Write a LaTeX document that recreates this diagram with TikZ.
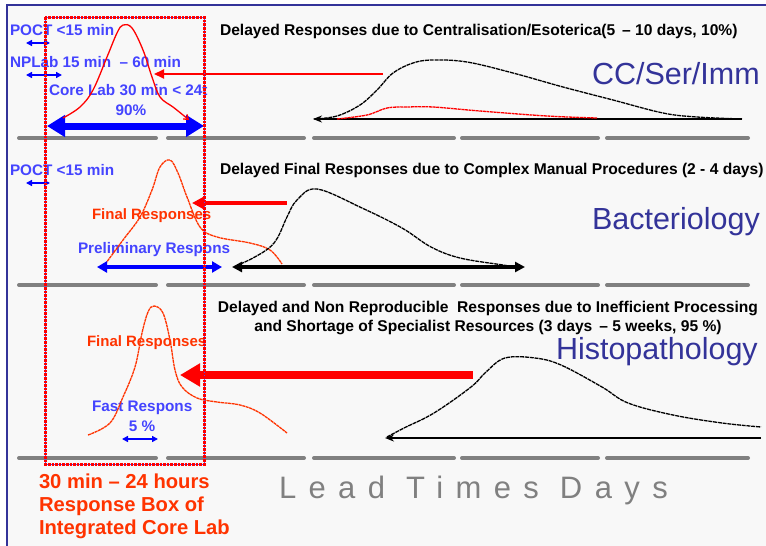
\documentclass[tikz,border=0pt]{standalone}
\usepackage{fontspec}
\setmainfont{Liberation Sans}
\usetikzlibrary{arrows.meta}
\definecolor{paper}{HTML}{F8F8F8}
\definecolor{navy}{HTML}{333399}
\definecolor{labelblue}{HTML}{4444FF}
\definecolor{orangered}{HTML}{FF3300}
\definecolor{rulegray}{HTML}{808080}

\begin{document}
\begin{tikzpicture}[x=1pt,y=-1pt,
  every node/.style={inner sep=0pt,outer sep=0pt},
  bluelabel/.style={text=labelblue,font=\fontsize{15.3}{17}\selectfont\bfseries,anchor=west},
  orangelabel/.style={text=orangered,font=\fontsize{15}{17}\selectfont\bfseries,anchor=west},
  boxlabel/.style={text=orangered,font=\fontsize{20.2}{22}\selectfont\bfseries,anchor=west},
  header/.style={text=black,font=\fontsize{15.6}{18}\selectfont\bfseries},
  section/.style={text=navy,font=\fontsize{30.5}{33}\selectfont,anchor=west},
  rule/.style={rulegray,line width=4pt,line cap=round},
  curveblack/.style={black,line width=1.3pt,dash pattern=on 4pt off 0.8pt},
  curveorange/.style={orangered,line width=1.3pt,dash pattern=on 3pt off 0.6pt},
  smallblue/.style={blue,line width=1.8pt,{Triangle[length=6pt,width=6pt]}-{Triangle[length=6pt,width=6pt]}},
  axisblack/.style={black,line width=2pt,-{Stealth[length=9pt,width=7pt]}}
]
\useasboundingbox (0,0) rectangle (766,546);
% paper and frame
\fill[white] (0,0) rectangle (766,546);
\fill[paper] (6,4) rectangle (766,546);
\draw[navy,line width=2pt] (6.5,546) -- (6.5,4.5) -- (766,4.5);

% grey time rules of the three rows
\foreach \ry in {138,285,458}{
  \foreach \ra/\rb in {17/158,166/306,312/456,460/600,605/750}{
    \draw[rule] (\ra+2,\ry) -- (\rb-2,\ry);
  }
}

% ---------- row 1: CC/Ser/Imm ----------
\node[bluelabel] (poct1) at (10,30) {POCT <15 min};
\node[bluelabel] (nplab) at (10,62) {NPLab 15 min \ – 60 min};
\node[bluelabel] (core) at (49,90) {Core Lab 30 min < 24t};
\node[text=labelblue,font=\fontsize{15.3}{17}\selectfont\bfseries] (ninety) at (131,110) {90\%};
\node[header,anchor=west] (head1) at (220,31) {Delayed Responses due to Centralisation/Esoterica(5 \,– 10 days, 10\%)};
\node[section] (cc) at (592,74) {CC/Ser/Imm};

\coordinate (p1a) at (26,43);  \coordinate (p1b) at (50,43);
\draw[smallblue] (p1a) -- (p1b);
\coordinate (npa) at (26,75);  \coordinate (npb) at (62,75);
\draw[smallblue] (npa) -- (npb);
\coordinate (cla) at (47,126); \coordinate (clb) at (204,126);
\draw[blue,line width=7pt,{Triangle[length=18pt,width=21pt]}-{Triangle[length=18pt,width=21pt]}] (cla) -- (clb);

\draw[red,line width=1.3pt,-{Straight Barb[length=4pt,width=6pt]}] plot[smooth,tension=0.6] coordinates
  {(63,118) (80,107) (93,90) (107,57) (117,33) (123,25) (132,28) (143,50) (152,77) (160,97) (173,107) (183,115) (189,120)};

\coordinate (r1a) at (383,74); \coordinate (r1b) at (154,74);
\draw[red,line width=2pt,-{Triangle[length=10pt,width=9pt]}] (r1a) -- (r1b);

\coordinate (ax1a) at (742,119); \coordinate (ax1b) at (313,119);
\draw[axisblack] (ax1a) -- (ax1b);
\draw[curveblack] plot[smooth,tension=0.6] coordinates
  {(314,119) (337,116) (360,105) (377,90) (393,73) (413,63) (433,60) (467,62) (513,73) (563,87) (613,100) (663,113) (697,117) (742,119)};
\draw[red,line width=1.3pt,dash pattern=on 3pt off 0.6pt] plot[smooth,tension=0.6] coordinates
  {(337,119) (367,115) (387,108) (407,107) (433,107) (480,111) (547,116) (597,118)};

% ---------- row 2: Bacteriology ----------
\node[bluelabel] (poct2) at (10,170) {POCT <15 min};
\node[header,anchor=west] (head2) at (220,170) {Delayed Final Responses due to Complex Manual Procedures (2 - 4 days)};
\node[orangelabel] (final2) at (92,216) {Final Responses};
\node[bluelabel] (prelim) at (78,250) {Preliminary Respons};
\node[section] (bact) at (592,222) {Bacteriology};

\coordinate (p2a) at (26,183); \coordinate (p2b) at (50,183);
\draw[smallblue] (p2a) -- (p2b);

\draw[curveorange] plot[smooth,tension=0.6] coordinates
  {(103,267) (123,240) (140,217) (152,190) (160,167) (170,160) (178,173) (187,197) (200,227) (217,237) (250,243) (270,250) (282,264)};

\coordinate (pra) at (97,267); \coordinate (prb) at (222,267);
\draw[blue,line width=4pt,{Triangle[length=10pt,width=11pt]}-{Triangle[length=10pt,width=11pt]}] (pra) -- (prb);
\coordinate (bka) at (232,267); \coordinate (bkb) at (525,267);
\draw[black,line width=4pt,{Triangle[length=10pt,width=10pt]}-{Triangle[length=10pt,width=10pt]}] (bka) -- (bkb);
\draw[curveblack] plot[smooth,tension=0.6] coordinates
  {(236,266) (253,258) (269,248) (278,237) (287,217) (297,200) (317,189) (362,208) (402,228) (431,247) (460,258) (503,265) (515,267)};

\coordinate (r2a) at (287,203); \coordinate (r2b) at (192,203);
\draw[red,line width=4.5pt,-{Triangle[length=12pt,width=12pt]}] (r2a) -- (r2b);

% ---------- row 3: Histopathology ----------
\node[header,align=center] (head3) at (488,318) {Delayed and Non Reproducible \ Responses due to Inefficient Processing\\[1.5pt]and Shortage of Specialist Resources (3 days \,– 5 weeks, 95 \%)};
\node[section] (histo) at (556,352) {Histopathology};
\node[orangelabel] (final3) at (87,343) {Final Responses};
\node[bluelabel] (fast) at (92,408) {Fast Respons};
\node[text=labelblue,font=\fontsize{15.3}{17}\selectfont\bfseries] (five) at (142,426) {5 \%};

\draw[curveorange] plot[smooth,tension=0.6] coordinates
  {(88,435) (110,423) (123,397) (135,367) (142,333) (148,312) (154,306) (163,313) (170,340) (175,370) (182,387) (197,398) (217,402) (240,405) (260,413) (287,433)};

\coordinate (fsa) at (122,439); \coordinate (fsb) at (158,439);
\draw[smallblue] (fsa) -- (fsb);

\coordinate (r3a) at (473,375); \coordinate (r3b) at (180,375);
\draw[red,line width=8pt,-{Triangle[length=20pt,width=22pt]}] (r3a) -- (r3b);

\coordinate (ax3a) at (761,438); \coordinate (ax3b) at (385,438);
\draw[axisblack] (ax3a) -- (ax3b);
\draw[curveblack] plot[smooth,tension=0.6] coordinates
  {(387,437) (404,428) (434,413) (471,387) (486,372) (505,358) (535,358) (561,365) (602,387) (628,403) (673,415) (722,423) (761,427)};

% ---------- response box of the integrated core lab ----------
\draw[blue!70,line width=1pt] (45,17) rectangle (204,464);
\draw[red,line width=3pt,dash pattern=on 2.6pt off 1pt] (45,17) rectangle (204,464);

\node[boxlabel] (box1) at (39,481) {30 min – 24 hours};
\node[boxlabel] (box2) at (39,506) {Response Box of};
\node[boxlabel] (box3) at (39,529) {Integrated Core Lab};

\node[anchor=west,text=rulegray,font=\fontsize{31}{33}\selectfont\addfontfeature{LetterSpace=40}] (lead) at (279,490) {Lead Times Days};
\end{tikzpicture}
\end{document}
